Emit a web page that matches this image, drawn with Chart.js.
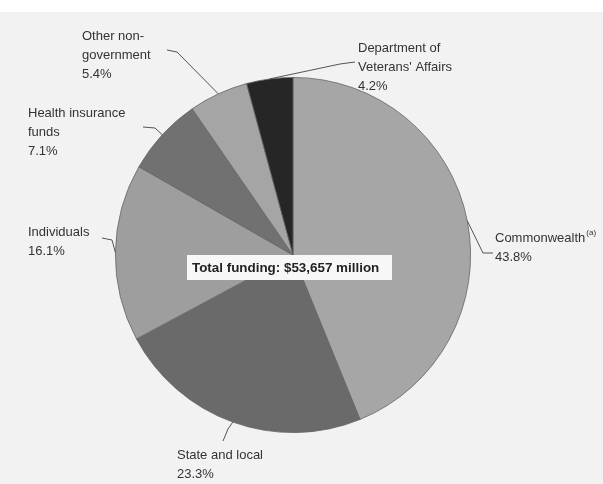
<!DOCTYPE html>
<html>
<head>
<meta charset="utf-8">
<script src="https://cdn.jsdelivr.net/npm/chart.js@4"></script>
<style>
  html, body { margin: 0; padding: 0; background: #ffffff; }
  canvas { display: block; }
</style>
</head>
<body>
<canvas id="fundingChart" width="603" height="484"></canvas>
<script>
// Data
const categories = ["Commonwealth", "State and local", "Individuals", "Health insurance funds", "Other non-government", "Department of Veterans' Affairs"];
const shares = [43.8, 23.3, 16.1, 7.1, 5.4, 4.2];
const totalFunding = "Total funding: $53,657 million";

// Styles
const sliceColors = ["#a6a6a6", "#6a6a6a", "#9e9e9e", "#717171", "#a5a5a5", "#262626"];

// Label placement (text block + leader line points)
const labelLayout = [
    { lines: ["Commonwealth"], sup: "(a)", x: 495, y: 238, elbow: [483, 253], end: [493, 253] },
    { lines: ["State and local"], x: 177, y: 455, elbow: [228, 429], end: [223, 441] },
    { lines: ["Individuals"], x: 28, y: 232, elbow: [112, 240], end: [102, 238] },
    { lines: ["Health insurance", "funds"], x: 28, y: 113, elbow: [155, 128], end: [143, 127] },
    { lines: ["Other non-", "government"], x: 82, y: 36, elbow: [177, 52], end: [167, 50] },
    { lines: ["Department of", "Veterans' Affairs"], x: 358, y: 48, elbow: [340, 64], end: [355, 62] }
];

const FONT = "Liberation Sans, Arial, sans-serif";

// Page background (grey scan with white strip at top)
const backgroundPlugin = {
    id: "background",
    beforeDraw(chart) {
        const ctx = chart.ctx;
        ctx.save();
        ctx.fillStyle = "#ffffff";
        ctx.fillRect(0, 0, chart.width, chart.height);
        ctx.fillStyle = "#f2f2f2";
        ctx.fillRect(0, 12, chart.width, chart.height - 12);
        ctx.restore();
    }
};

// Labels with leader lines and the centre box
const labelPlugin = {
    id: "pieLabels",
    afterDraw(chart) {
        const ctx = chart.ctx;
        const arcs = chart.getDatasetMeta(0).data;
        ctx.save();
        arcs.forEach(function (arc, i) {
            const lay = labelLayout[i];
            const a = (arc.startAngle + arc.endAngle) / 2;
            const px = arc.x + Math.cos(a) * arc.outerRadius;
            const py = arc.y + Math.sin(a) * arc.outerRadius;

            ctx.strokeStyle = "#555555";
            ctx.lineWidth = 1;
            ctx.beginPath();
            ctx.moveTo(px, py);
            ctx.lineTo(lay.elbow[0], lay.elbow[1]);
            ctx.lineTo(lay.end[0], lay.end[1]);
            ctx.stroke();

            ctx.fillStyle = "#333333";
            ctx.font = "13px " + FONT;
            ctx.textAlign = "left";
            ctx.textBaseline = "middle";
            const lines = lay.lines.concat([shares[i].toFixed(1) + "%"]);
            lines.forEach(function (t, k) {
                ctx.fillText(t, lay.x, lay.y + k * 19);
            });
            if (lay.sup) {
                const w = ctx.measureText(lay.lines[0]).width;
                ctx.font = "8px " + FONT;
                ctx.fillText(lay.sup, lay.x + w + 1, lay.y - 5);
            }
        });

        // centre box
        const cx = arcs[0].x, cy = arcs[0].y;
        const bx = cx - 106, by = cy;
        ctx.fillStyle = "#f7f7f7";
        ctx.fillRect(bx, by, 205, 25);
        ctx.font = "bold 13.4px " + FONT;
        ctx.fillStyle = "#222222";
        ctx.textAlign = "left";
        ctx.textBaseline = "middle";
        ctx.fillText(totalFunding, bx + 5, by + 13);
        ctx.restore();
    }
};

new Chart(document.getElementById("fundingChart").getContext("2d"), {
    type: "pie",
    data: {
        labels: categories,
        datasets: [{
            data: shares,
            backgroundColor: sliceColors,
            borderColor: "#666666",
            borderWidth: 0.8
        }]
    },
    options: {
        responsive: false,
        animation: false,
        layout: { padding: { left: 115, right: 132, top: 77, bottom: 51 } },
        plugins: {
            legend: { display: false },
            tooltip: { enabled: false }
        }
    },
    plugins: [backgroundPlugin, labelPlugin]
});
</script>
</body>
</html>
